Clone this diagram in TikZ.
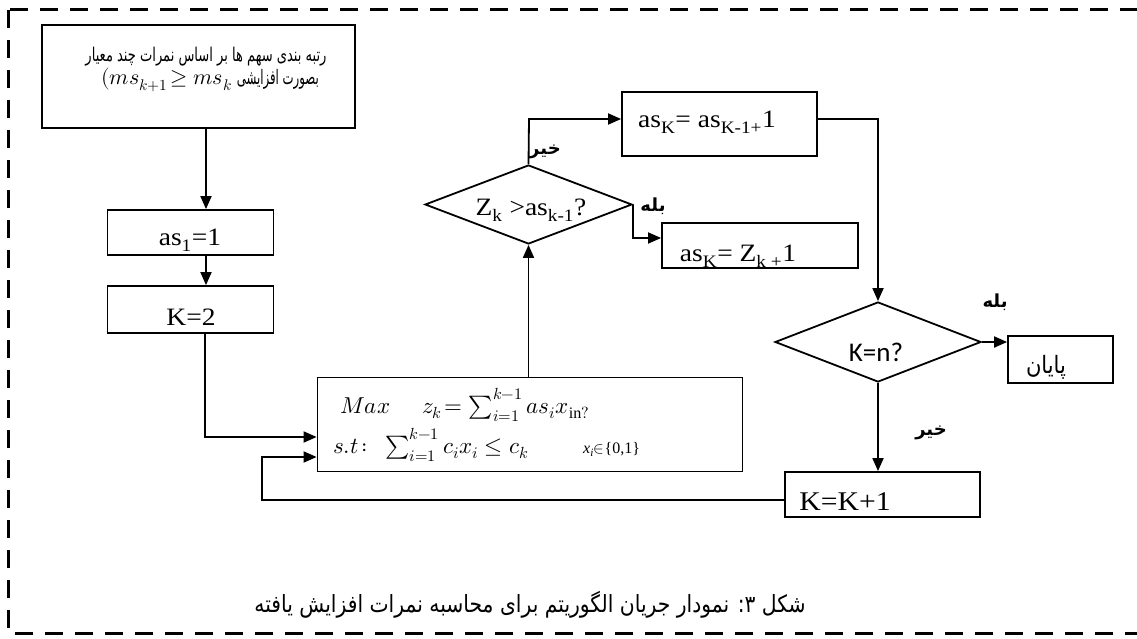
\documentclass[tikz,border=0pt]{standalone}
\usepackage{fontspec}
\usepackage{unicode-math}
\usepackage{graphicx}
\setmainfont{Liberation Serif}
\newfontfamily\fa[Script=Arabic]{DejaVu Sans}
\newfontfamily\carl{Carlito}
\TeXXeTstate=1
\usetikzlibrary{arrows.meta,shapes.geometric}
\newcommand{\hst}[1]{\scalebox{1.1}[1]{#1}}
\begin{document}
\begin{tikzpicture}[x=1pt,y=-1pt,
  box/.style={draw,line width=1.8pt,rectangle,inner sep=0pt},
  dia/.style={draw,line width=1.8pt,diamond,inner sep=0pt},
  arr/.style={line width=1.8pt,-{Triangle[length=13pt,width=11pt]}},
  lbl/.style={inner sep=0pt,font=\fa\bfseries\fontsize{18}{20}\selectfont},
  txt/.style={inner sep=0pt,font=\fontsize{25}{28}\selectfont},
  mth/.style={inner sep=0pt,anchor=base west,font=\fontsize{23}{26}\selectfont}]
\useasboundingbox (0,0) rectangle (1137,639);
\clip (0,0) rectangle (1137,639);
\draw[line width=3pt,dash pattern=on 18pt off 12pt] (8,10) rectangle (1165,633);

% boxes
\node[box,minimum width=313pt,minimum height=103pt] (top) at (198.5,76.5) {};
\node[box,minimum width=166pt,minimum height=45pt] (as1) at (190.5,232.5) {};
\node[box,minimum width=166pt,minimum height=47pt] (K2) at (190.5,309.5) {};
\node[box,minimum width=425pt,minimum height=94pt] (maxb) at (530,424.5) {};
\node[dia,minimum width=207pt,minimum height=79pt] (d1) at (528.5,204.5) {};
\node[box,minimum width=195pt,minimum height=64pt] (A) at (719.5,124) {};
\node[box,minimum width=196pt,minimum height=45pt] (B) at (760,245.5) {};
\node[dia,minimum width=206pt,minimum height=80pt] (d2) at (878,342) {};
\node[box,minimum width=105pt,minimum height=47pt] (end) at (1060.5,359.5) {};
\node[box,minimum width=195pt,minimum height=45pt] (K1) at (882.5,494.5) {};

% texts
\node[inner sep=0pt] (topl1) at (206,57) {\resizebox*{241pt}{19pt}{\fa\beginR رتبه بندی سهم ها بر اساس نمرات چند معیار\endR}};
\node[inner sep=0pt] (topl2) at (210,80) {\fontsize{22}{24}\selectfont$(ms_{k+1}\!\geq ms_k$\hspace{5pt}\resizebox*{82pt}{20pt}{\fa\beginR بصورت افزایشی\endR}};
\node[txt] (as1t) at (190,240) {\hst{as\textsubscript{1}=1}};
\node[txt] (K2t) at (191,317) {\hst{K=2}};
\node[txt] (d1t) at (531,210) {\hst{Z\textsubscript{k} >as\textsubscript{k-1}?}};
\node[txt] (At) at (707,122) {\hst{as\textsubscript{K}= as\textsubscript{K-1+}1}};
\node[txt] (Bt) at (738,256) {\hst{as\textsubscript{K}= Z\textsubscript{k +}1}};
\node[inner sep=0pt,font=\carl\fontsize{27}{30}\selectfont] (d2t) at (876,352) {K=n?};
\node[inner sep=0pt] (endt) at (1046,367) {\resizebox*{40pt}{24pt}{\fa\beginR پایان\endR}};
\node[txt,font=\fontsize{27}{30}\selectfont] (K1t) at (845,502) {\hst{K=K+1}};
\node[mth] (m1) at (340,413) {$Max\hspace{32pt}z_k\!= \textstyle\sum_{i=1}^{k-1} as_i x_{\mathrm{in?}}$};
\node[mth] (m2) at (333,453) {$s.t\!:\ \ \textstyle\sum_{i=1}^{k-1} c_i x_i \leq c_k$};
\node[mth,font=\fontsize{16}{18}\selectfont] (m3) at (583,453) {\emph{x}\textsubscript{\emph{i}}$\in$\{0,1\}};

% labels
\node[lbl] (no1) at (545,152) {\beginR خیر\endR};
\node[lbl] (yes1) at (653,206) {\beginR بله\endR};
\node[lbl] (yes2) at (995,302) {\beginR بله\endR};
\node[lbl] (no2) at (931,433) {\beginR خیر\endR};

\node[inner sep=0pt] (cap) at (530,605) {\resizebox*{551pt}{27pt}{\fa\beginR شکل ۳: نمودار جریان الگوریتم برای محاسبه نمرات افزایش یافته\endR}};

% connectors
\coordinate (ax) at (206,0);
\coordinate (c1) at (205,437);
\coordinate (c2) at (262,457);
\coordinate (c3) at (262,500);
\coordinate (c4) at (529,119);
\coordinate (c5) at (632,238);
\draw[arr] (top.south -| ax) -- (as1.north -| ax);
\draw[arr] (as1.south -| ax) -- (K2.north -| ax);
\draw[arr] (K2.south -| c1) -- (c1) -- (maxb.west |- c1);
\draw[arr] (K1.west |- c3) -- (c3) -- (c2) -- (maxb.west |- c2);
\draw[arr] (d1.south |- maxb.north) -- (d1.south);
\draw[arr] (d1.north) -- (c4) -- (A.west |- c4);
\draw[arr] (d1.east) -- (d1.east |- c5) -- (B.west |- c5);
\draw[arr] (A.east |- c4) -| (d2.north);
\draw[arr] (d2.east) -- (end.west |- d2.east);
\draw[arr] (d2.south) -- (K1.north -| d2.south);
\end{tikzpicture}
\end{document}
